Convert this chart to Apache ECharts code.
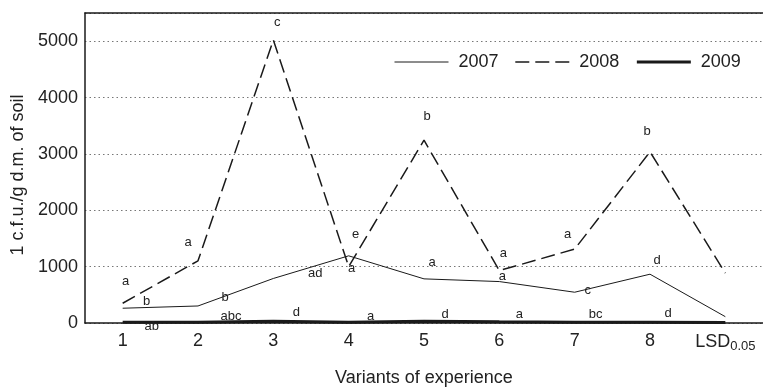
<!DOCTYPE html>
<html>
<head>
<meta charset="utf-8">
<script src="https://cdn.jsdelivr.net/npm/echarts@6/dist/echarts.min.js"></script>
<style>
  html, body { margin: 0; padding: 0; background: #fff; }
  #chart { width: 763px; height: 387px; }
</style>
</head>
<body>
<div id="chart"></div>
<script>
// Variants of the experiment on the category axis
const categories = ['1', '2', '3', '4', '5', '6', '7', '8', 'LSD'];

// Colony-forming units per gram of soil dry matter, by year
const values2007 = [262, 302, 790, 1192, 783, 735, 546, 866, 112];
const values2008 = [350, 1103, 5020, 1000, 3244, 930, 1311, 3037, 884];
const values2009 = [12, 15, 30, 15, 30, 20, 15, 15, 10];

// Homogeneous-group letters written next to each point
const letters2007 = ['b', 'b', 'ad', 'a', 'a', 'a', 'c', 'd', ''];
const letters2008 = ['a', 'a', 'c', 'e', 'b', 'a', 'a', 'b', ''];
const letters2009 = ['ab', 'abc', 'd', 'a', 'd', 'a', 'bc', 'd', ''];

// Value axis ticks
const yMin = 0;
const yMax = 5500;
const yStep = 1000;

// Pixel nudges of the group letters relative to their points
const shift2007 = [[24, -7], [27, -9], [42, -5], [3, 13], [8, -16], [3, -5], [13, -2], [7, -14], [0, 0]];
const shift2008 = [[3, -22], [-10, -18], [4, -18], [7, -32], [3, -24], [4, -17], [-7, -15], [-3, -20], [0, 0]];
const shift2009 = [[29, 4], [33, -6], [23, -9], [22, -6], [21, -7], [20, -7], [21, -8], [18, -9], [0, 0]];

const FONT = "'Liberation Sans', Arial, Helvetica, sans-serif";
const INK = '#1a1a1a';
const CLEAR = 'rgba(0,0,0,0)';

// Line looks shared by the series and their legend entries
const style2007 = { color: INK, width: 1, type: 'solid' };
const style2008 = { color: INK, width: 1.5, type: [14, 6] };
const style2009 = { color: INK, width: 3, type: 'solid' };

function points(values, letters, shifts) {
  return values.map((v, i) => ({
    value: v,
    label: {
      show: letters[i] !== '',
      formatter: letters[i],
      position: 'inside',
      offset: shifts[i],
      fontSize: 13,
      fontFamily: FONT,
      color: '#222'
    }
  }));
}

function lineSeries(name, values, letters, shifts, lineStyle, z) {
  return {
    name: name,
    type: 'line',
    data: points(values, letters, shifts),
    symbol: 'circle',
    symbolSize: 1,
    showSymbol: true,
    itemStyle: { color: CLEAR, borderColor: CLEAR, borderWidth: 0 },
    lineStyle: lineStyle,
    label: { show: true, color: '#222' },
    emphasis: { disabled: true },
    z: z,
    animation: false
  };
}

const chart = echarts.init(document.getElementById('chart'), null, { renderer: 'canvas' });

chart.setOption({
  backgroundColor: '#fff',
  animation: false,
  grid: { left: 85, right: 0, top: 13, bottom: 64, containLabel: false, outerBoundsMode: 'none' },
  legend: {
    left: 389,
    top: 48,
    itemWidth: 54,
    itemHeight: 20,
    itemGap: 16,
    itemStyle: { color: CLEAR, borderColor: CLEAR },
    textStyle: { fontSize: 18, fontFamily: FONT, color: '#222', padding: [0, 0, 0, 5] },
    data: [
      { name: '2007', lineStyle: style2007 },
      { name: '2008', lineStyle: style2008 },
      { name: '2009', lineStyle: style2009 }
    ]
  },
  xAxis: [
    {
      type: 'category',
      data: categories,
      boundaryGap: true,
      axisLine: { show: true, lineStyle: { color: INK, width: 1.5 } },
      axisTick: { show: false },
      axisLabel: {
        interval: 0,
        margin: 9,
        fontSize: 18,
        fontFamily: FONT,
        color: '#222',
        formatter: v => v === 'LSD' ? '{m|LSD}{s|0.05}' : v,
        rich: {
          m: { fontSize: 18, fontFamily: FONT, color: '#222' },
          s: { fontSize: 13, fontFamily: FONT, color: '#222', padding: [8, 0, 0, 0] }
        }
      },
      name: 'Variants of experience',
      nameLocation: 'middle',
      nameGap: 46,
      nameTextStyle: { fontSize: 18, fontFamily: FONT, color: '#222' }
    },
    {
      type: 'category',
      data: categories,
      position: 'top',
      axisLine: { show: true, lineStyle: { color: INK, width: 1.5 } },
      axisTick: { show: false },
      axisLabel: { show: false }
    }
  ],
  yAxis: {
    type: 'value',
    min: yMin,
    max: yMax,
    interval: yStep,
    axisLine: { show: true, lineStyle: { color: INK, width: 1.5 } },
    axisTick: { show: false },
    axisLabel: {
      margin: 7,
      fontSize: 18,
      fontFamily: FONT,
      color: '#222',
      formatter: v => (v % yStep === 0 ? String(v) : '')
    },
    splitLine: { show: true, lineStyle: { color: '#777', type: [1.5, 3], width: 1 } },
    name: '1 c.f.u./g d.m. of soil',
    nameLocation: 'middle',
    nameGap: 53,
    nameTextStyle: { fontSize: 18, fontFamily: FONT, color: '#222', padding: [0, 14, 0, 0] }
  },
  series: [
    lineSeries('2007', values2007, letters2007, shift2007, style2007, 3),
    lineSeries('2008', values2008, letters2008, shift2008, style2008, 4),
    lineSeries('2009', values2009, letters2009, shift2009, style2009, 5)
  ]
});
</script>
</body>
</html>
